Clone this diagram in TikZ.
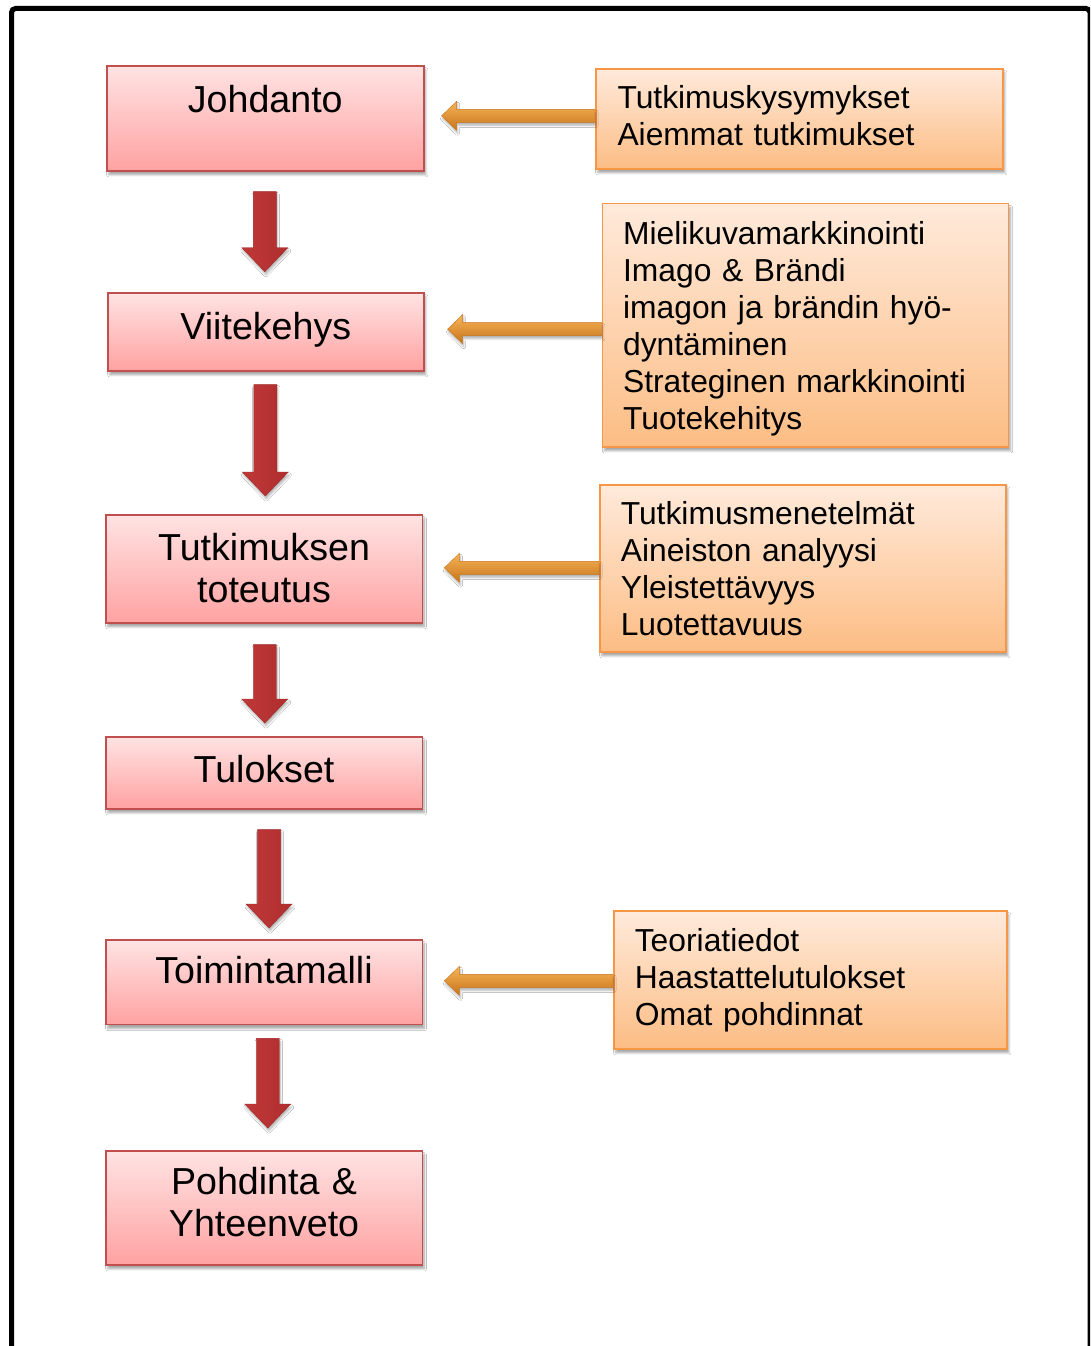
\documentclass[tikz,border=0pt]{standalone}
\usepackage{fontspec}
\setmainfont{Liberation Sans}
\usetikzlibrary{calc,shadows.blur}
\definecolor{rtop}{HTML}{FFE3E3}
\definecolor{rbot}{HTML}{FFA2A2}
\definecolor{rline}{HTML}{C0504D}
\definecolor{otop}{HTML}{FFEADB}
\definecolor{obot}{HTML}{FCBD84}
\definecolor{oline}{HTML}{F79646}
\definecolor{raL}{HTML}{C03838}
\definecolor{raM}{HTML}{DA5050}
\definecolor{raR}{HTML}{B02E2E}
\definecolor{raD}{HTML}{A02828}
\definecolor{oaT}{HTML}{F7B458}
\definecolor{oaM}{HTML}{F2A23C}
\definecolor{oaB}{HTML}{C8741A}
\tikzset{
  boxshadow/.style={blur shadow={shadow xshift=2pt, shadow yshift=-4pt, shadow blur steps=6, shadow opacity=35}},
  redbox/.style={draw=rline, line width=1.6pt, top color=rtop, bottom color=rbot,
    inner sep=0pt, anchor=north west, align=center,
    font=\fontsize{37.6}{42}\selectfont, boxshadow},
  orbox/.style={draw=oline, line width=1.6pt, top color=otop, bottom color=obot,
    inner ysep=0pt, anchor=north west, align=left,
    font=\fontsize{31.8}{37}\selectfont, boxshadow},
  redarrow/.style={shading=axis, left color=raL, middle color=raM, right color=raR,
    draw=raD, line width=0.4pt,
    blur shadow={shadow xshift=1pt, shadow yshift=-3pt, shadow blur steps=5, shadow opacity=30}},
  orarrow/.style={shading=axis, top color=oaT, middle color=oaM, bottom color=oaB,
    draw=oaB, line width=0.4pt,
    blur shadow={shadow xshift=1pt, shadow yshift=-3pt, shadow blur steps=5, shadow opacity=30}},
  frame/.style={draw=black, line width=5pt, rounded corners=4pt}
}
\newcommand{\redarr}[2]{\path[redarrow] let \p1=#1, \p2=#2 in
  (\x1-11.5pt,\y1) -- (\x1+11.5pt,\y1) -- (\x1+11.5pt,\y2+24pt) -- (\x1+23pt,\y2+24pt)
  -- (\x1,\y2) -- (\x1-23pt,\y2+24pt) -- (\x1-11.5pt,\y2+24pt) -- cycle;}
\newcommand{\orarr}[2]{\path[orarrow] let \p1=#1, \p2=#2 in
  (\x1,\y1+6.5pt) -- (\x2+15pt,\y1+6.5pt) -- (\x2+15pt,\y1+14.5pt) -- (\x2,\y1)
  -- (\x2+15pt,\y1-14.5pt) -- (\x2+15pt,\y1-6.5pt) -- (\x1,\y1-6.5pt) -- cycle;}
\begin{document}
\begin{tikzpicture}[x=1pt,y=1pt]
\useasboundingbox (0,0) rectangle (1090,-1346);
\clip (0,0) rectangle (1090,-1346);
\fill[white] (0,0) rectangle (1090,-1346);
\draw[frame] (11.5,-1400) -- (11.5,-8.5) -- (1090,-8.5) -- (1090,-1400);

% red boxes
\node[redbox, text width=317pt, text height=46.7pt, text depth=58.3pt] (j) at (106,-65) {Johdanto};
\node[redbox, text width=316pt, text height=46.4pt, text depth=31.6pt] (v) at (107,-292) {Viitekehys};
\node[redbox, text width=316.5pt, text height=46pt, text depth=62pt] (t) at (105,-514) {Tutkimuksen\\toteutus};
\node[redbox, text width=316.5pt, text height=46pt, text depth=26pt] (tu) at (105,-736) {Tulokset};
\node[redbox, text width=316.5pt, text height=44pt, text depth=40.7pt] (tm) at (105,-939) {Toimintamalli};
\node[redbox, text width=316.5pt, text height=43.5pt, text depth=70.5pt] (p) at (105,-1150) {Pohdinta \&\\Yhteenveto};

% orange boxes
\node[orbox, inner xsep=21.7pt, text width=363.6pt, text height=39.3pt, text depth=60.7pt] (o1) at (595,-68)
  {Tutkimuskysymykset\\Aiemmat tutkimukset};
\node[orbox, inner xsep=20.6pt, text width=364.8pt, text height=40.6pt, text depth=202.7pt] (o2) at (601.7,-202.7)
  {Mielikuvamarkkinointi\\Imago \& Brändi\\imagon ja brändin hyö-\\dyntäminen\\Strateginen markkinointi\\Tuotekehitys};
\node[orbox, inner xsep=21pt, text width=364pt, text height=40pt, text depth=127pt] (o3) at (599,-484)
  {Tutkimusmenetelmät\\Aineiston analyysi\\Yleistettävyys\\Luotettavuus};
\node[orbox, inner xsep=21pt, text width=351pt, text height=41pt, text depth=97pt] (o4) at (613,-910)
  {Teoriatiedot\\Haastattelutulokset\\Omat pohdinnat};

% red down arrows
\redarr{([xshift=-0.5pt,yshift=-20pt]j.south)}{([yshift=20.3pt]v.north)}
\redarr{([xshift=-0.5pt,yshift=-13pt]v.south)}{([yshift=18pt]t.north)}
\redarr{([xshift=0.7pt,yshift=-21pt]t.south)}{([yshift=13pt]tu.north)}
\redarr{([xshift=5pt,yshift=-20pt]tu.south)}{([yshift=11pt]tm.north)}
\redarr{([xshift=3.7pt,yshift=-13pt]tm.south)}{([yshift=22pt]p.north)}

% orange left arrows
\orarr{([yshift=3pt]o1.west)}{([xshift=17pt]j.east)}
\orarr{([yshift=-4pt]o2.west)}{([xshift=23pt]v.east)}
\orarr{([yshift=0.5pt]o3.west)}{([xshift=21.3pt]t.east)}
\orarr{([yshift=-1pt]o4.west)}{([xshift=21.3pt]tm.east)}
\end{tikzpicture}
\end{document}
